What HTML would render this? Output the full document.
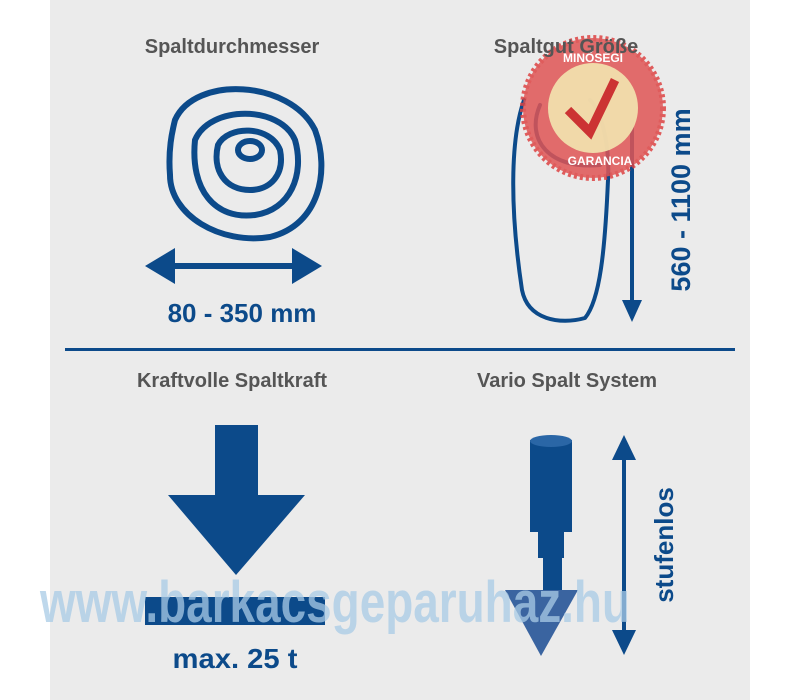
<!DOCTYPE html>
<html><head><meta charset="utf-8"><style>
body{margin:0;background:#fff;width:800px;height:700px;overflow:hidden;position:relative;font-family:"Liberation Sans",sans-serif}
.p{position:absolute;left:50px;top:0;width:700px;height:700px;background:#ebebeb}
.t{position:absolute;font-weight:bold;color:#555;font-size:20px;text-align:center;width:300px}
</style></head><body>
<div class="p"></div>
<svg width="800" height="700" style="position:absolute;left:0;top:0">
<g fill="none" stroke="#0c4a8a" stroke-width="6" stroke-linecap="round" stroke-linejoin="round">
<path d="M175,120 C195,75 290,80 315,130 C330,170 320,225 270,237 C220,245 170,215 170,175 C168,150 172,132 175,120Z"/>
<path d="M195,140 C210,105 280,105 295,140 C305,175 290,210 255,215 C215,220 190,190 195,140Z"/>
<path d="M218,145 C228,125 270,125 280,150 C285,175 270,190 250,190 C225,190 212,170 218,145Z"/>
<ellipse cx="250" cy="150" rx="12" ry="9"/>
<path d="M524,100 C510,140 510,210 522,290 C528,320 560,325 585,318 C600,300 605,250 608,180 C610,140 600,110 590,100" stroke-width="4"/>
<path d="M540,105 C525,140 550,170 600,165" stroke-width="4"/>
</g>
<g fill="#0c4a8a">
<rect x="165" y="263" width="140" height="6"/>
<polygon points="145,266 175,248 175,284"/><polygon points="322,266 292,248 292,284"/>
<rect x="65" y="348" width="670" height="3"/>
<rect x="630" y="120" width="4" height="185"/><polygon points="622,300 642,300 632,322"/>
<rect x="215" y="425" width="43" height="72"/><polygon points="168,495 305,495 236,575"/>
<rect x="145" y="597" width="180" height="28"/>
<rect x="530" y="440" width="42" height="92"/><ellipse cx="551" cy="441" rx="21" ry="6" fill="#2a66a6"/>
<rect x="538" y="530" width="26" height="28"/><rect x="543" y="555" width="19" height="45"/>
<polygon points="505,590 578,590 541,656" fill="#3a64a0"/>
<rect x="622" y="455" width="4" height="180"/>
<polygon points="612,460 636,460 624,435"/><polygon points="612,630 636,630 624,655"/>
</g>
<circle cx="593" cy="108" r="70" fill="#e05555" stroke="#d44" stroke-width="6" stroke-dasharray="3 3" opacity="0.85"/>
<circle cx="593" cy="108" r="45" fill="#f3e6b0" opacity="0.9"/>
<path d="M568,110 L590,132 L615,80" fill="none" stroke="#c33" stroke-width="9"/>
<text x="593" y="62" font-size="12" font-weight="bold" fill="#fff" text-anchor="middle" font-family="Liberation Sans">MINŐSÉGI</text>
<text x="600" y="165" font-size="12" font-weight="bold" fill="#fff" text-anchor="middle" font-family="Liberation Sans">GARANCIA</text>
<text transform="translate(690,200) rotate(-90)" font-size="27" font-weight="bold" fill="#0c4a8a" text-anchor="middle" font-family="Liberation Sans">560 - 1100 mm</text>
<text transform="translate(673,545) rotate(-90)" font-size="26" font-weight="bold" fill="#0c4a8a" text-anchor="middle" font-family="Liberation Sans">stufenlos</text>
<text x="242" y="322" font-size="26" font-weight="bold" fill="#0c4a8a" text-anchor="middle" font-family="Liberation Sans">80 - 350 mm</text>
<text x="235" y="668" font-size="28" font-weight="bold" fill="#0c4a8a" text-anchor="middle" font-family="Liberation Sans" textLength="125" lengthAdjust="spacingAndGlyphs">max. 25 t</text>
<text x="40" y="622" font-size="58" font-weight="bold" fill="#a9cbe6" opacity="0.75" font-family="Liberation Sans" textLength="590" lengthAdjust="spacingAndGlyphs">www.barkacsgeparuhaz.hu</text>
</svg>
<div class="t" style="left:82px;top:36px">Spaltdurchmesser</div>
<div class="t" style="left:416px;top:36px">Spaltgut Größe</div>
<div class="t" style="left:82px;top:370px">Kraftvolle Spaltkraft</div>
<div class="t" style="left:417px;top:370px">Vario Spalt System</div>
</body></html>
